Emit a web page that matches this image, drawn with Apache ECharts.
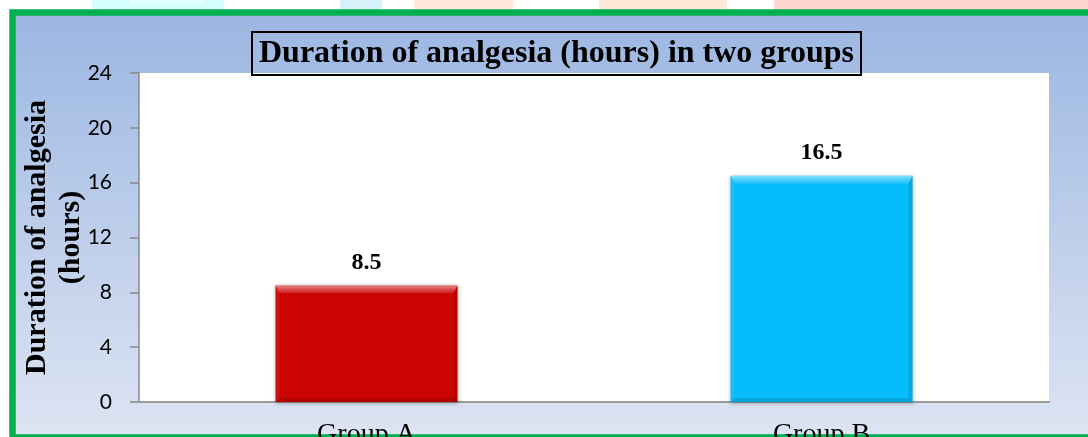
<!DOCTYPE html>
<html>
<head>
<meta charset="utf-8">
<script src="https://cdn.jsdelivr.net/npm/echarts@6/dist/echarts.min.js"></script>
<style>
html,body{margin:0;padding:0;background:#fff;}
#chart{width:1088px;height:437px;}
</style>
</head>
<body>
<div id="chart"></div>
<script>
const categories = ['Group A', 'Group B'];
const durationValues = [8.5, 16.5];
const barColors = ['#CC0303', '#06BCFA'];
const yTicks = [0, 4, 8, 12, 16, 20, 24];

const chart = echarts.init(document.getElementById('chart'));
const serif = '"Liberation Serif", "Times New Roman", serif';

function bevel(params, api) {
  const idx = api.value(0);
  const val = api.value(1);
  const top = api.coord([idx, val]);
  const base = api.coord([idx, 0]);
  const bw = api.size([1, 0])[0] * 0.4;
  const x0 = top[0] - bw / 2, x1 = top[0] + bw / 2, y0 = top[1], y1 = base[1];
  const bt = 8, bs = 4;
  return {
    type: 'group',
    children: [
      { type: 'polygon', shape: { points: [[x0, y0], [x1, y0], [x1 - bs, y0 + bt], [x0 + bs, y0 + bt]] },
        style: { fill: new echarts.graphic.LinearGradient(0, 0, 0, 1, [
          { offset: 0, color: 'rgba(255,255,255,0.5)' },
          { offset: 1, color: 'rgba(255,255,255,0.08)' }]) } },
      { type: 'polygon', shape: { points: [[x0, y0], [x0 + bs, y0 + bt], [x0 + bs, y1 - bs], [x0, y1]] },
        style: { fill: 'rgba(255,255,255,0.05)' } },
      { type: 'polygon', shape: { points: [[x1, y0], [x1 - bs, y0 + bt], [x1 - bs, y1 - bs], [x1, y1]] },
        style: { fill: 'rgba(0,0,0,0.10)' } },
      { type: 'polygon', shape: { points: [[x0, y1], [x0 + bs, y1 - bs], [x1 - bs, y1 - bs], [x1, y1]] },
        style: { fill: 'rgba(0,0,0,0.12)' } }
    ]
  };
}

const option = {
  animation: false,
  graphic: [
    { type: 'rect', z: -10, shape: { x: 92, y: 0, width: 132, height: 10 }, style: { fill: '#D5FEFF' } },
    { type: 'rect', z: -10, shape: { x: 132, y: 0, width: 71, height: 3 }, style: { fill: '#E6FFFF' } },
    { type: 'rect', z: -10, shape: { x: 340, y: 0, width: 42, height: 10 }, style: { fill: '#D8F2FC' } },
    { type: 'rect', z: -10, shape: { x: 414, y: 0, width: 99, height: 10 }, style: { fill: '#FFE9DA' } },
    { type: 'rect', z: -10, shape: { x: 599, y: 0, width: 128, height: 10 }, style: { fill: '#FFE8D8' } },
    { type: 'rect', z: -10, shape: { x: 774, y: 0, width: 320, height: 10 }, style: { fill: '#FFD7D0' } },
    { type: 'rect', z: -9, shape: { x: 12.5, y: 12.5, width: 1100, height: 425 },
      style: { stroke: '#00B050', lineWidth: 6.5,
        fill: new echarts.graphic.LinearGradient(0, 0, 0, 1, [
          { offset: 0, color: '#9BB6E2' },
          { offset: 1, color: '#DEE5F3' }]) } }
  ],
  title: {
    text: 'Duration of analgesia (hours) in two groups',
    left: 252, top: 32,
    padding: [4, 7],
    borderColor: '#000', borderWidth: 2,
    textStyle: { fontFamily: serif, fontWeight: 'bold', fontSize: 32, lineHeight: 35, color: '#000' }
  },
  grid: { left: 139, top: 73, right: 39, bottom: 35, show: true, backgroundColor: '#fff', borderWidth: 0,
          containLabel: false, outerBoundsMode: 'none' },
  xAxis: {
    type: 'category',
    data: categories,
    axisLine: { lineStyle: { color: '#9A9A9A', width: 2 } },
    axisTick: { show: false },
    axisLabel: { fontFamily: serif, fontSize: 28, color: '#000', margin: 19 }
  },
  yAxis: {
    type: 'value',
    min: yTicks[0], max: yTicks[yTicks.length - 1], interval: yTicks[1] - yTicks[0],
    name: 'Duration of analgesia\n(hours)',
    nameLocation: 'middle', nameRotate: 90, nameGap: 51, nameMoveOverlap: false,
    nameTextStyle: { fontFamily: serif, fontWeight: 'bold', fontSize: 30, lineHeight: 34, color: '#000' },
    axisLine: { show: true, lineStyle: { color: '#888', width: 1.5 } },
    axisTick: { show: true, length: 9, lineStyle: { color: '#888', width: 1.5 } },
    axisLabel: { fontFamily: 'Lato, "Noto Sans", sans-serif', fontSize: 21, color: '#000', margin: 27 },
    splitLine: { show: false }
  },
  series: [
    {
      type: 'bar',
      barWidth: '40%',
      data: durationValues.map((v, i) => ({ value: v, itemStyle: { color: barColors[i] } })),
      itemStyle: { shadowColor: 'rgba(0,0,0,0.35)', shadowBlur: 4, shadowOffsetY: 1 },
      label: { show: true, position: 'top', distance: 11, fontFamily: serif, fontWeight: 'bold', fontSize: 24, color: '#000' }
    },
    {
      type: 'custom',
      renderItem: bevel,
      data: durationValues.map((v, i) => [i, v]),
      encode: { x: 0, y: 1 },
      z: 3,
      silent: true
    }
  ]
};
chart.setOption(option);
</script>
</body>
</html>
